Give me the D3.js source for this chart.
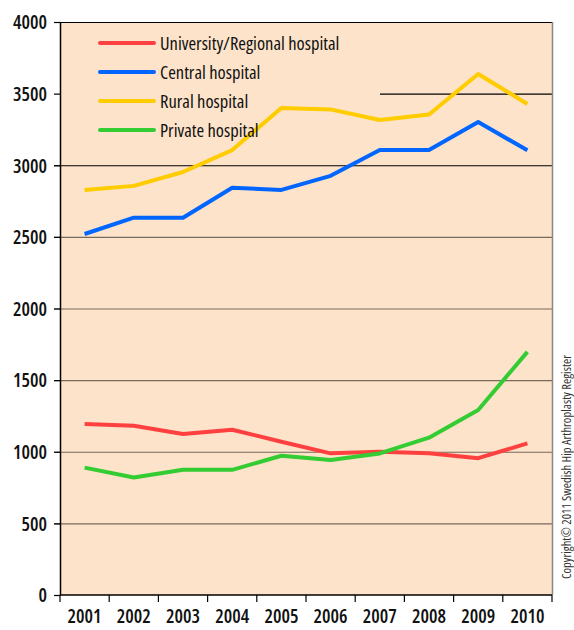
<!DOCTYPE html>
<html>
<head>
<script src="https://d3js.org/d3.v7.min.js"></script>
<style>
  body { margin: 0; background: #fff; }
  text { font-family: "Open Sans", sans-serif; font-stretch: condensed; }
</style>
</head>
<body>
<svg class="target" width="574" height="630"></svg>
<script>

// values
years = ['2001','2002','2003','2004','2005','2006','2007','2008','2009','2010']
university = [1194, 1182, 1124, 1154, 1070, 989, 1000, 989, 955, 1058]
central    = [2520, 2634, 2634, 2843, 2828, 2926, 3106, 3106, 3302, 3104]
rural      = [2828, 2856, 2953, 3106, 3400, 3390, 3316, 3354, 3637, 3428]
privat     = [889, 820, 874, 874, 972, 943, 988, 1098, 1292, 1697]
yTicks = [0, 500, 1000, 1500, 2000, 2500, 3000, 3500, 4000]

series = [
  { name: 'University/Regional hospital', values: university, color: '#ff4040' },
  { name: 'Central hospital', values: central, color: '#0066ff' },
  { name: 'Rural hospital', values: rural, color: '#ffcc00' },
  { name: 'Private hospital', values: privat, color: '#33cc33' }
]

margin = ({ top: 22, right: 22, bottom: 35, left: 60 })
width = 574
height = 630

svg = d3.select('.target')

x = d3.scaleBand()
  .domain(years)
  .range([margin.left, width - margin.right])

y = d3.scaleLinear()
  .domain([0, 4000])
  .range([height - margin.bottom, margin.top])

// plot background
svg.append('rect')
  .attr('x', margin.left)
  .attr('y', margin.top)
  .attr('width', x.range()[1] - margin.left)
  .attr('height', y(0) - margin.top)
  .style('fill', '#fde3c9')

// gridlines (the legend hides the left part of the 3500 line)
gridColor = v => (v == 3000 || v == 3500 || v == 4000) ? '#000' : '#776a5e'
svg.append('g')
  .selectAll('line')
  .data(yTicks.filter(v => v > 0))
  .join('line')
    .attr('x1', v => v == 3500 ? 380 : margin.left - 6)
    .attr('x2', x.range()[1])
    .attr('y1', v => y(v) + 0.5)
    .attr('y2', v => y(v) + 0.5)
    .style('stroke', gridColor)
    .style('stroke-width', 1.2)

// right border
svg.append('line')
  .attr('x1', x.range()[1] + 0.5).attr('x2', x.range()[1] + 0.5)
  .attr('y1', margin.top).attr('y2', y(0))
  .style('stroke', '#888')
  .style('stroke-width', 1.5)

// y axis
yAxis = svg.append('g')
  .attr('transform', `translate(${margin.left},0)`)
  .call(d3.axisLeft(y).tickValues(yTicks).tickFormat(d3.format('d')).tickSize(6).tickSizeOuter(0))
yAxis.attr('font-family', null)
yAxis.select('.domain').style('stroke-width', 1.5)
yAxis.selectAll('line').style('stroke-width', 1.2)
yAxis.selectAll('text')
  .attr('x', -13)
  .attr('dy', '0.36em')
  .style('font-size', '19px')
  .style('font-weight', 600)
  .style('fill', '#111')

// x axis, ticks on band edges
xAxis = svg.append('g')
  .attr('transform', `translate(0,${y(0)})`)
xAxis.append('line')
  .attr('x1', margin.left).attr('x2', x.range()[1])
  .style('stroke', '#000').style('stroke-width', 1.5)
xAxis.selectAll('.edge')
  .data(years.concat(['end']))
  .join('line')
    .attr('class', 'edge')
    .attr('x1', (d, i) => i < years.length ? x(d) : x.range()[1])
    .attr('x2', (d, i) => i < years.length ? x(d) : x.range()[1])
    .attr('y1', 0).attr('y2', 7)
    .style('stroke', '#000').style('stroke-width', 1.2)
xAxis.selectAll('text')
  .data(years)
  .join('text')
    .attr('x', d => x(d) + x.bandwidth() / 2)
    .attr('y', 28)
    .attr('text-anchor', 'middle')
    .style('font-size', '19px')
    .style('font-weight', 600)
    .style('fill', '#111')
    .text(d => d)

// lines
line = d3.line()
  .x((d, i) => x(years[i]) + x.bandwidth() / 2)
  .y(d => y(d))

svg.append('g')
  .selectAll('path')
  .data(series)
  .join('path')
    .attr('d', d => line(d.values))
    .style('fill', 'none')
    .style('stroke', d => d.color)
    .style('stroke-width', 4)
    .style('stroke-linejoin', 'round')

// legend
legend = svg.append('g')
  .selectAll('g')
  .data(series)
  .join('g')
    .attr('transform', (d, i) => `translate(100,${43 + 29 * i})`)
legend.append('line')
  .attr('x1', 0).attr('x2', 54)
  .style('stroke', d => d.color)
  .style('stroke-width', 4)
  .style('stroke-linecap', 'round')
legend.append('text')
  .attr('x', 60)
  .attr('y', 7)
  .style('font-size', '18.5px')
  .style('font-weight', 500)
  .style('fill', '#111')
  .text(d => d.name)

// copyright, rotated
svg.append('text')
  .attr('transform', 'translate(571,467) rotate(-90)')
  .attr('text-anchor', 'middle')
  .style('font-size', '12.6px')
  .style('fill', '#333')
  .text('Copyright\u00a9 2011 Swedish Hip Arthroplasty Register')

</script>
</body>
</html>
